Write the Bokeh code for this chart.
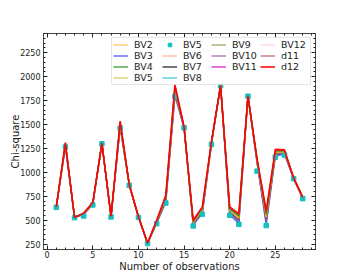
from bokeh.plotting import figure
from bokeh.models import (Range1d, FixedTicker, LinearAxis, Legend, LegendItem,
                          ColumnDataSource)
from bokeh.embed import file_html
from bokeh.resources import INLINE

obs = list(range(1, 29))

bv5_obs = [635, 1265, 528, 545, 660, 1299, 535, 1462, 865, 530, 257, 465, 680, 1792,
           1466, 441, 562, 1292, 1906, 552, 458, 1795, 1013, 445, 1159, 1180, 934, 726]

bv3 = [635, 1270, 528, 560, 665, 1300, 537, 1470, 866, 532, 258, 470, 690, 1800,
       1468, 450, 570, 1295, 1905, 560, 465, 1795, 1100, 455, 1170, 1190, 936, 728]
bv8 = [636, 1274, 528, 562, 667, 1300, 537, 1476, 866, 533, 258, 473, 697, 1811,
       1469, 455, 577, 1297, 1905, 568, 475, 1795, 1104, 469, 1177, 1194, 937, 729]
bv10 = [636, 1278, 528, 563, 669, 1301, 538, 1483, 867, 534, 259, 476, 704, 1823,
        1469, 460, 584, 1300, 1906, 576, 486, 1796, 1108, 484, 1184, 1199, 938, 731]
bv11 = [637, 1282, 529, 565, 671, 1302, 538, 1490, 867, 534, 259, 479, 711, 1835,
        1470, 465, 591, 1302, 1907, 584, 497, 1797, 1112, 499, 1191, 1204, 939, 732]
bv12 = [637, 1284, 529, 565, 672, 1302, 538, 1493, 867, 535, 259, 481, 715, 1840,
        1470, 468, 595, 1304, 1907, 588, 502, 1797, 1114, 506, 1195, 1206, 939, 733]
bv7 = [637, 1286, 529, 566, 673, 1302, 538, 1496, 868, 535, 260, 482, 718, 1846,
       1471, 470, 598, 1305, 1907, 592, 507, 1797, 1116, 513, 1198, 1208, 940, 734]
bv6 = [637, 1288, 529, 567, 674, 1302, 538, 1499, 868, 536, 260, 484, 722, 1852,
       1471, 473, 602, 1306, 1907, 596, 512, 1797, 1118, 520, 1202, 1210, 940, 734]
bv5 = [638, 1290, 529, 568, 675, 1303, 539, 1503, 868, 536, 260, 485, 725, 1858,
       1472, 475, 605, 1308, 1908, 600, 518, 1798, 1120, 528, 1205, 1213, 941, 735]
bv2 = [638, 1294, 529, 569, 677, 1303, 539, 1509, 868, 537, 260, 488, 732, 1869,
       1472, 480, 612, 1310, 1908, 608, 528, 1798, 1124, 542, 1212, 1217, 941, 736]
bv9 = [639, 1298, 529, 571, 679, 1304, 539, 1516, 869, 538, 261, 491, 739, 1881,
       1473, 485, 619, 1313, 1909, 616, 539, 1799, 1128, 557, 1219, 1222, 942, 738]
bv4 = [639, 1302, 530, 572, 681, 1304, 539, 1522, 869, 538, 261, 494, 746, 1892,
       1474, 490, 626, 1315, 1909, 624, 549, 1799, 1132, 571, 1226, 1226, 943, 739]
d11 = [640, 1306, 530, 574, 683, 1305, 540, 1529, 870, 539, 262, 497, 753, 1904,
       1474, 495, 633, 1318, 1910, 632, 560, 1800, 1136, 586, 1233, 1231, 944, 741]
d12 = [640, 1310, 530, 575, 685, 1305, 540, 1535, 870, 540, 262, 500, 760, 1915,
       1475, 500, 640, 1320, 1910, 640, 570, 1800, 1140, 600, 1240, 1235, 945, 742]

x_major = [0, 5, 10, 15, 20, 25]
x_minor = list(range(0, 30))
y_major = [250, 500, 750, 1000, 1250, 1500, 1750, 2000, 2250]
y_minor = list(range(200, 2500, 50))

FONT = "DejaVu Sans"
INK = "#222222"

p = figure(width=350, height=280, output_backend="svg", toolbar_location=None,
           x_range=Range1d(-0.4, 29.4), y_range=Range1d(195, 2450),
           min_border_left=43, min_border_right=35, min_border_top=33,
           min_border_bottom=31)
p.xgrid.visible = False
p.ygrid.visible = False
p.outline_line_color = "#444444"
p.outline_line_width = 1


def style(ax):
    ax.axis_line_color = "#444444"
    ax.major_tick_in = 4
    ax.major_tick_out = 0
    ax.minor_tick_in = 2
    ax.minor_tick_out = 0
    ax.major_tick_line_color = INK
    ax.minor_tick_line_color = INK
    ax.major_label_text_font = FONT
    ax.major_label_text_font_size = "8px"
    ax.major_label_text_color = INK
    ax.major_label_standoff = 1
    ax.axis_label_text_font = FONT
    ax.axis_label_text_font_size = "10px"
    ax.axis_label_text_font_style = "normal"
    ax.axis_label_text_color = INK
    ax.axis_label_standoff = 0


p.xaxis.ticker = FixedTicker(ticks=x_major, minor_ticks=x_minor)
p.yaxis.ticker = FixedTicker(ticks=y_major, minor_ticks=y_minor)
p.xaxis.axis_label = "Number of observations"
p.yaxis.axis_label = "Chi-square"
style(p.xaxis[0])
style(p.yaxis[0])
p.yaxis[0].major_label_standoff = 3
p.yaxis[0].axis_label_standoff = -4

# tick-only axes on top and right: minor marks, then longer marks at major positions
for side, minor, major in (("above", x_minor, x_major), ("right", y_minor, y_major)):
    a1 = LinearAxis(ticker=FixedTicker(ticks=[], minor_ticks=minor))
    a1.minor_tick_in = 2
    a1.minor_tick_out = 0
    a1.major_tick_in = 0
    a1.major_tick_out = 0
    a1.axis_line_color = "#444444"
    a1.minor_tick_line_color = INK
    p.add_layout(a1, side)
    a2 = LinearAxis(ticker=FixedTicker(ticks=[], minor_ticks=major))
    a2.minor_tick_in = 4
    a2.minor_tick_out = 0
    a2.major_tick_in = 0
    a2.major_tick_out = 0
    a2.axis_line_color = None
    a2.minor_tick_line_color = INK
    p.add_layout(a2, side)

src = ColumnDataSource(dict(x=obs, bv5_obs=bv5_obs, bv2=bv2, bv3=bv3, bv4=bv4, bv5=bv5,
                            bv6=bv6, bv7=bv7, bv8=bv8, bv9=bv9, bv10=bv10, bv11=bv11,
                            bv12=bv12, d11=d11, d12=d12))

specs = [
    ("bv3", "BV3", "#3333ff", 0.7, 1.5),
    ("bv8", "BV8", "#00bfbf", 0.75, 1.3),
    ("bv10", "BV10", "#8e2c9e", 0.7, 1.3),
    ("bv11", "BV11", "#cc00cc", 0.85, 1.3),
    ("bv12", "BV12", "#ffc0cb", 0.7, 1.3),
    ("bv7", "BV7", "#000000", 0.9, 1.2),
    ("bv6", "BV6", "#fa8072", 0.6, 1.3),
    ("bv5", "BV5", "#c8c832", 0.8, 1.3),
    ("bv2", "BV2", "#ffa500", 0.6, 1.3),
    ("bv9", "BV9", "#8f8f3a", 0.8, 1.3),
    ("bv4", "BV4", "#008000", 0.85, 1.2),
    ("d11", "d11", "#b84a4a", 0.8, 1.3),
]
rend = {}
for col, name, color, alpha, w in specs:
    rend[name] = p.line("x", col, source=src, line_color=color, line_alpha=alpha,
                        line_width=w)

r_obs = p.scatter("x", "bv5_obs", source=src, marker="square", size=4.5,
                  fill_color="#17bfbf", line_color="#17bfbf")

rend["d12"] = p.line("x", "d12", source=src, line_color="#ff0000", line_alpha=0.95,
                     line_width=1.6)

dummy = p.line(x=[1], y=[1000], line_alpha=0)

order = [("BV2", rend["BV2"]), ("BV3", rend["BV3"]), ("BV4", rend["BV4"]),
         ("BV5", rend["BV5"]), ("BV5", r_obs), ("BV6", rend["BV6"]),
         ("BV7", rend["BV7"]), ("BV8", rend["BV8"]), ("BV9", rend["BV9"]),
         ("BV10", rend["BV10"]), ("BV11", rend["BV11"]), (" ", dummy),
         ("BV12", rend["BV12"]), ("d11", rend["d11"]), ("d12", rend["d12"])]
items = [LegendItem(label=l, renderers=[r]) for l, r in order]

legend = Legend(items=items, location="top_right", orientation="vertical", nrows=4,
                label_text_font=FONT, label_text_font_size="9.5px",
                label_text_color=INK,
                glyph_width=15, glyph_height=9, label_height=9, label_width=28,
                label_standoff=6, spacing=0, padding=1, margin=4,
                border_line_color="#cccccc", border_line_width=1,
                background_fill_alpha=0.8)
p.add_layout(legend)

open("out.html", "w").write(file_html(p, INLINE))
